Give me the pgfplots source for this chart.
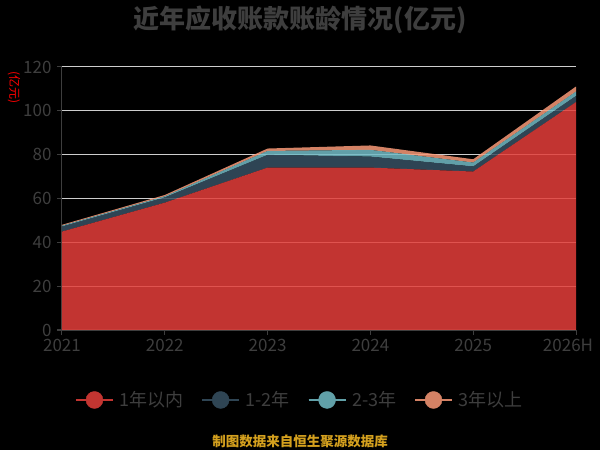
\documentclass[border=0pt]{standalone}
\usepackage{pgfplots}
\pgfplotsset{compat=1.18}
\usepackage{fontspec}
\setmainfont{Noto Sans CJK SC}
\definecolor{cA}{RGB}{228,62,58}
\definecolor{cB}{RGB}{55,81,99}
\definecolor{cC}{RGB}{114,188,198}
\definecolor{cD}{RGB}{249,153,119}
\definecolor{lA}{RGB}{194,53,49}
\definecolor{lB}{RGB}{47,69,84}
\definecolor{lC}{RGB}{97,160,168}
\definecolor{lD}{RGB}{212,130,101}
\definecolor{txt}{RGB}{62,62,62}
\definecolor{gridc}{RGB}{205,205,205}
\definecolor{src}{RGB}{212,160,30}
\begin{document}
\begin{tikzpicture}[x=1pt,y=1pt]
\useasboundingbox (0,0) rectangle (600,450);
\fill[black] (0,0) rectangle (600,450);
\begin{axis}[
  at={(62pt,120pt)}, anchor=south west,
  width=514pt, height=263pt, scale only axis,
  xmin=0, xmax=5, ymin=0, ymax=120,
  xtick={0,1,2,3,4,5},
  xticklabels={2021,2022,2023,2024,2025,\hspace*{-16pt}2026H},
  ytick={0,20,...,120},
  ymajorgrids, major grid style={color=gridc, line width=1pt},
  axis x line*=bottom, axis y line*=left,
  axis line style={color=txt, line width=1pt, -},
  tick style={color=txt, line width=1pt},
  tick align=outside, major tick length=5pt,
  ticklabel style={font=\fontsize{17}{20}\selectfont, text=txt},
  /pgf/number format/assume math mode=true,
  yticklabel style={xshift=-2pt},
  xticklabel style={yshift=-1pt},
  stack plots=y,
  legend columns=4,
  legend style={at={(0.463,-0.266)}, anchor=center, draw=none, fill=none,
    font=\fontsize{18}{21}\selectfont, text=txt,
    /tikz/every odd column/.append style={column sep=4pt},
    /tikz/every even column/.append style={column sep=16pt}},
  legend image code/.code={
    \draw[line width=1.2pt] (0pt,0pt) -- (37pt,0pt);
    \fill (18.5pt,0pt) circle (8.5pt);
  },
]
\addlegendimage{color=lA, fill=lA}
\addlegendimage{color=lB, fill=lB}
\addlegendimage{color=lC, fill=lC}
\addlegendimage{color=lD, fill=lD}
\addplot[fill=cA, fill opacity=0.85, draw=none] coordinates {(0,44.9) (1,58.1) (2,74.1) (3,74.1) (4,72.3) (5,104.0)} \closedcycle;
\addplot[fill=cB, fill opacity=0.85, draw=none] coordinates {(0,2.3) (1,2.4) (2,5.8) (3,5.0) (4,2.3) (5,2.8)} \closedcycle;
\addplot[fill=cC, fill opacity=0.85, draw=none] coordinates {(0,0.4) (1,0.5) (2,1.8) (3,3.1) (4,1.8) (5,2.0)} \closedcycle;
\addplot[fill=cD, fill opacity=0.85, draw=none] coordinates {(0,0.4) (1,0.6) (2,1.1) (3,2.0) (4,1.5) (5,2.3)} \closedcycle;
\legend{1年以内,1-2年,2-3年,3年以上}
\end{axis}
\node[text=txt, font=\fontsize{26}{30}\selectfont\bfseries] at (300,430) {近年应收账款账龄情况(亿元)};
\node[text=red, font=\fontsize{12}{14}\selectfont, rotate=-90] at (14,362) {(亿元)};
\node[text=src, font=\fontsize{13.5}{16}\selectfont\bfseries] at (300,9) {制图数据来自恒生聚源数据库};
\end{tikzpicture}
\end{document}
